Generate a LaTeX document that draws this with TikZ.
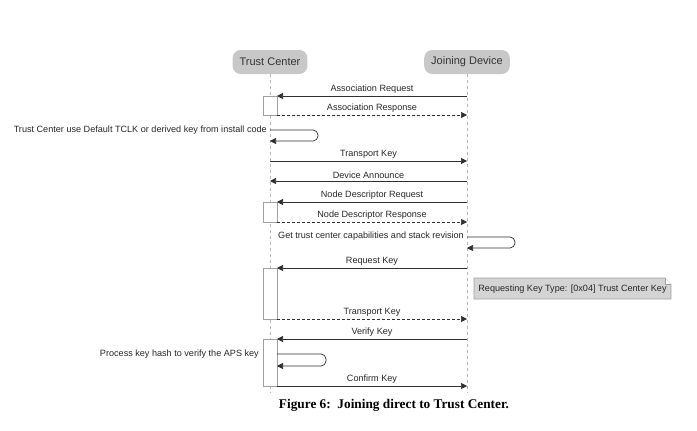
\documentclass[tikz,border=0pt]{standalone}
\usepackage{fontspec}
\setmainfont{Liberation Serif}
\setsansfont{Liberation Sans}
\usetikzlibrary{arrows.meta}
\definecolor{hdrfill}{HTML}{C8C8C8}
\definecolor{linec}{HTML}{303030}
\definecolor{boxc}{HTML}{A0A0A0}
\definecolor{lifec}{HTML}{B8B8B8}
\definecolor{notefill}{HTML}{D4D4D4}
\begin{document}
\begin{tikzpicture}[x=1pt,y=-1pt,
  hdr/.style={fill=hdrfill,rounded corners=8pt,minimum height=24pt,inner xsep=7pt,
    font=\sffamily\fontsize{11}{12}\selectfont,text=black!80},
  life/.style={draw=lifec,dashed,dash pattern=on 3pt off 3pt,line width=0.5pt},
  msg/.style={draw=linec,line width=0.7pt,-{Triangle[length=6pt,width=6pt]}},
  ret/.style={msg,dash pattern=on 3pt off 2pt},
  act/.style={draw=boxc,fill=white,line width=0.6pt},
  lbl/.style={font=\sffamily\fontsize{9.1}{10}\selectfont,text=black!85,inner sep=1pt},
  caption/.style={font=\bfseries\fontsize{13.3}{15}\selectfont}]
\useasboundingbox (0,0) rectangle (697,431);
% headers
\node[hdr] (tc) at (270,62) {Trust Center};
\node[hdr] (jd) at (467,62) {Joining Device};
\coordinate (tcend) at (270,393);
\coordinate (jdend) at (467,393);
\draw[life] (tc.south) -- (tcend);
\draw[life] (jd.south) -- (jdend);
% activation boxes
\draw[act] (263,96) rectangle (277,115);
\draw[act] (263,202) rectangle (277,222);
\draw[act] (263,268) rectangle (277,319);
\draw[act] (263,339) rectangle (277,386);
% message end points
\coordinate (j1) at (467,96);  \coordinate (t1) at (277,96);
\coordinate (t2) at (277,115); \coordinate (j2) at (467,115);
\coordinate (t3) at (270,161); \coordinate (j3) at (467,161);
\coordinate (j4) at (467,181); \coordinate (t4) at (270,181);
\coordinate (j5) at (467,202); \coordinate (t5) at (277,202);
\coordinate (t6) at (277,222); \coordinate (j6) at (467,222);
\coordinate (j7) at (467,268); \coordinate (t7) at (277,268);
\coordinate (t8) at (277,319); \coordinate (j8) at (467,319);
\coordinate (j9) at (467,339); \coordinate (t9) at (277,339);
\coordinate (t10) at (277,386); \coordinate (j10) at (467,386);
% messages
\draw[msg] (j1) -- node[lbl,above=1.5pt] {Association Request} (t1);
\draw[ret] (t2) -- node[lbl,above=1.5pt] {Association Response} (j2);
\draw[msg] (t3) -- node[lbl,above=1.5pt] {Transport Key} (j3);
\draw[msg] (j4) -- node[lbl,above=1.5pt] {Device Announce} (t4);
\draw[msg] (j5) -- node[lbl,above=1.5pt] {Node Descriptor Request} (t5);
\draw[ret] (t6) -- node[lbl,above=1.5pt] {Node Descriptor Response} (j6);
\draw[msg] (j7) -- node[lbl,above=1.5pt] {Request Key} (t7);
\draw[ret] (t8) -- node[lbl,above=1.5pt] {Transport Key} (j8);
\draw[msg] (j9) -- node[lbl,above=1.5pt] {Verify Key} (t9);
\draw[msg] (t10) -- node[lbl,above=1.5pt] {Confirm Key} (j10);
% self messages
\coordinate (s1a) at (270,130); \coordinate (s1b) at (270,141);
\draw[msg,rounded corners=5pt] (s1a) -- (318,130) -- (318,141) -- (s1b);
\node[lbl,anchor=east] (s1t) at (268,130) {Trust Center use Default TCLK or derived key from install code};
\coordinate (s2a) at (467,237); \coordinate (s2b) at (467,248);
\draw[msg,rounded corners=5pt] (s2a) -- (515,237) -- (515,248) -- (s2b);
\node[lbl,anchor=east] (s2t) at (465,236) {Get trust center capabilities and stack revision};
\coordinate (s3a) at (277,354); \coordinate (s3b) at (277,366);
\draw[msg,rounded corners=5pt] (s3a) -- (326,354) -- (326,366) -- (s3b);
\node[lbl,anchor=east] (s3t) at (260,354) {Process key hash to verify the APS key};
% note
\draw[draw=boxc,fill=notefill,line width=0.6pt] (474,278) -- (665,278) -- (671,284) -- (671,299) -- (474,299) -- cycle;
\draw[draw=boxc,fill=white,line width=0.5pt] (665,278) -- (665,284) -- (671,284);
\node[lbl] (note) at (572.5,289) {Requesting Key Type: [0x04] Trust Center Key};
% caption
\node[caption] (cap) at (394,405) {Figure 6:\ \ Joining direct to Trust Center.};
\end{tikzpicture}
\end{document}
